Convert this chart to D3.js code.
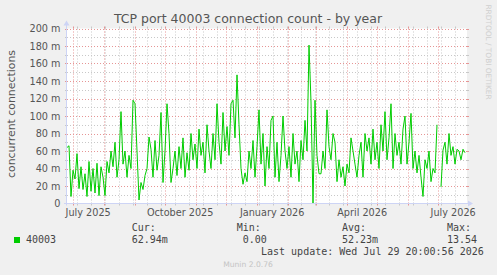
<!DOCTYPE html>
<html>
<head>
<meta charset="utf-8">
<script src="https://cdn.jsdelivr.net/npm/d3@7"></script>
<style>
  body { margin: 0; background: #f0f0f0; }
  text { font-family: "DejaVu Sans", sans-serif; }
  .mono { font-family: "DejaVu Sans Mono", monospace; }
</style>
</head>
<body>
<svg id="chart" width="497" height="275"></svg>
<script>
const title = 'TCP port 40003 connection count - by year'
const yTitle = 'concurrent connections'
const seriesName = '40003'

// one sample every 2 days, in milli-connections (null = no data)
const firstSample = new Date(2025, 5, 24, 20, 0, 56)
const lastUpdate = new Date(2026, 6, 29, 20, 0, 56)
const sampleStepDays = 2
const connections = [
  64, 66, 8, 38, 28, 57, 17, 42, 16, 34, 8, 48, 14, 40, 12, 46, 9, 42, 30, 9,
  48, 35, 60, 42, 70, 30, 50, 105, 45, 60, 30, 55, 40, 118, 114, 60, 4, 24, 16, 32,
  40, 76, 62, 30, 72, 38, 55, 104, 24, 60, 114, 80, 24, 40, 60, 32, 65, 40, 75, 30,
  58, 38, 80, 50, 68, 40, 85, 55, 70, 35, 90, 60, 40, 80, 50, 114, 70, 45, 104, 60,
  88, 55, 114, 118, 75, 147, 90, 40, 22, 35, 25, 60, 40, 72, 30, 65, 107, 45, 80, 20,
  65, 40, 95, 100, 30, 70, 25, 55, 100, 60, 40, 65, 30, 80, 45, 60, 25, 72, 50, 95,
  60, 181, 116, 0, 118, 55, 34, 34, 60, 40, 107, 65, 50, 80, 70, 25, 50, 30, 42, 20,
  45, 35, 75, 60, 45, 30, 55, 70, 30, 80, 60, 75, 45, 85, 50, 70, 40, 90, 60, 105,
  50, 75, 114, 40, 80, 55, 70, 45, 85, 100, 45, 70, 103, 40, 60, 35, 55, 30, 8, 50,
  40, 60, 25, 40, 35, 90, null, 19, 61, 70, 45, 80, 55, 65, 45, 62, 60, 50, 62, 58
]

const yTicks = [0, 20, 40, 60, 80, 100, 120, 140, 160, 180, 200]
const yMinorTicks = [10, 30, 50, 70, 90, 110, 130, 150, 170, 190]
const monthLabels = [
  ['2025-07-01', 'July 2025'],
  ['2025-10-01', 'October 2025'],
  ['2026-01-01', 'January 2026'],
  ['2026-04-01', 'April 2026'],
  ['2026-07-01', 'July 2026']
]
const minorGridAnchor = new Date(2026, 5, 6)

const legendHeads = ['Cur:', 'Min:', 'Avg:', 'Max:']
const legendValues = ['62.94m', '0.00', '52.23m', '13.54']
const lastUpdateText = 'Last update: Wed Jul 29 20:00:56 2026'
const footer = 'Munin 2.0.76'
const sideText = 'RRDTOOL / TOBI OETIKER'

const svg = d3.select('#chart')
const plot = {left: 67, right: 467, top: 28.5, bottom: 203.5}

const x = d3.scaleTime()
  .domain([d3.timeDay.offset(lastUpdate, -400), lastUpdate])
  .range([plot.left, plot.right])
const y = d3.scaleLinear().domain([0, 200]).range([plot.bottom, plot.top])

svg.append('rect').attr('width', 497).attr('height', 275).attr('fill', '#f0f0f0')
svg.append('rect')
  .attr('x', plot.left).attr('y', plot.top)
  .attr('width', plot.right - plot.left).attr('height', plot.bottom - plot.top)
  .attr('fill', '#fff')

const minorColor = '#c8c8c8'
const majorColor = '#e69595'
const grid = svg.append('g')

// vertical grid
const minorDates = []
for (let d = minorGridAnchor; d > x.domain()[0]; d = d3.timeDay.offset(d, -14)) minorDates.push(d)
for (let d = d3.timeDay.offset(minorGridAnchor, 14); d < x.domain()[1]; d = d3.timeDay.offset(d, 14)) minorDates.push(d)
const majorDates = d3.timeMonth.range(x.domain()[0], x.domain()[1])

function vLines(dates, color) {
  const g = grid.append('g')
  dates.forEach(d => {
    const px = Math.round(x(d)) + 0.5
    g.append('line').attr('x1', px).attr('x2', px).attr('y1', plot.top).attr('y2', plot.bottom)
      .attr('stroke', color).attr('stroke-dasharray', '1,2')
    g.append('line').attr('x1', px).attr('x2', px).attr('y1', plot.top - 2).attr('y2', plot.top)
      .attr('stroke', color)
    g.append('line').attr('x1', px).attr('x2', px).attr('y1', plot.bottom).attr('y2', plot.bottom + 2)
      .attr('stroke', color)
  })
}
function hLines(values, color) {
  const g = grid.append('g')
  values.forEach(v => {
    const py = Math.round(y(v)) + 0.5
    g.append('line').attr('x1', plot.left).attr('x2', plot.right).attr('y1', py).attr('y2', py)
      .attr('stroke', color).attr('stroke-dasharray', '1,2')
    g.append('line').attr('x1', plot.left - 2).attr('x2', plot.left).attr('y1', py).attr('y2', py)
      .attr('stroke', color)
    g.append('line').attr('x1', plot.right).attr('x2', plot.right + 2).attr('y1', py).attr('y2', py)
      .attr('stroke', color)
  })
}
vLines(minorDates, minorColor)
hLines(yMinorTicks, minorColor)
vLines(majorDates, majorColor)
hLines(yTicks.filter(v => v > 0), majorColor)

// series
const points = connections.map((v, i) => ({date: d3.timeDay.offset(firstSample, i * sampleStepDays), value: v}))
const line = d3.line()
  .defined(d => d.value !== null)
  .x(d => x(d.date))
  .y(d => y(d.value))
svg.append('path')
  .datum(points)
  .attr('d', line)
  .attr('fill', 'none')
  .attr('stroke', '#00cc00')
  .attr('stroke-width', 1)

// axes
const axisColor = '#cdd4f5'
svg.append('line').attr('x1', plot.left - 0.5).attr('x2', plot.left - 0.5)
  .attr('y1', plot.bottom + 2).attr('y2', plot.top - 4).attr('stroke', axisColor)
svg.append('path').attr('d', `M${plot.left - 3.5},${plot.top - 3}L${plot.left + 2.5},${plot.top - 3}L${plot.left - 0.5},${plot.top - 8}Z`)
  .attr('fill', axisColor)
svg.append('line').attr('x1', plot.left - 3).attr('x2', plot.right + 4)
  .attr('y1', plot.bottom).attr('y2', plot.bottom).attr('stroke', axisColor)
svg.append('path').attr('d', `M${plot.right + 1},${plot.bottom - 3}L${plot.right + 1},${plot.bottom + 3}L${plot.right + 6},${plot.bottom}Z`)
  .attr('fill', axisColor)

// tick labels
const labelColor = '#555'
svg.append('g').selectAll('text').data(yTicks).join('text')
  .attr('x', 60.5).attr('y', d => y(d) + 3.5)
  .attr('text-anchor', 'end').attr('font-size', 9.7).attr('fill', labelColor)
  .text(d => d === 0 ? '0' : d + ' m')

svg.append('g').selectAll('text').data(monthLabels).join('text')
  .attr('x', d => x(d3.timeDay.offset(new Date(d[0] + 'T00:00:00'), 15)))
  .attr('y', 215.5)
  .attr('text-anchor', 'middle').attr('font-size', 9.7).attr('fill', labelColor)
  .text(d => d[1])

// titles
svg.append('text').attr('x', 248).attr('y', 22.5).attr('text-anchor', 'middle')
  .attr('font-size', 12.5).attr('fill', '#555').text(title)
svg.append('text').attr('transform', 'translate(14.5,114) rotate(-90)').attr('text-anchor', 'middle')
  .attr('font-size', 10.9).attr('fill', '#555').text(yTitle)
svg.append('text').attr('transform', 'translate(485.5,52) rotate(90)').attr('text-anchor', 'middle')
  .attr('font-size', 7.4).attr('fill', '#cfcfcf').text(sideText)

// legend
const legendColor = '#444'
svg.append('rect').attr('x', 14).attr('y', 237).attr('width', 6).attr('height', 6).attr('fill', '#00cc00')
svg.append('text').attr('class', 'mono').attr('x', 26).attr('y', 242.7)
  .attr('font-size', 10).attr('fill', legendColor).text(seriesName)
const colX = [131.7, 236.7, 342, 447]
const valX = [131.7, 242.7, 342, 447]
legendHeads.forEach((t, i) => {
  svg.append('text').attr('class', 'mono').attr('x', colX[i]).attr('y', 231.3)
    .attr('font-size', 10).attr('fill', legendColor).text(t)
  svg.append('text').attr('class', 'mono').attr('x', valX[i]).attr('y', 242.7)
    .attr('font-size', 10).attr('fill', legendColor).text(legendValues[i])
})
svg.append('text').attr('class', 'mono').attr('x', 261).attr('y', 254.5)
  .attr('font-size', 10).attr('fill', legendColor).text(lastUpdateText)
svg.append('text').attr('x', 248).attr('y', 266.5).attr('text-anchor', 'middle')
  .attr('font-size', 7.6).attr('fill', '#c4c4c4').text(footer)
</script>
</body>
</html>
